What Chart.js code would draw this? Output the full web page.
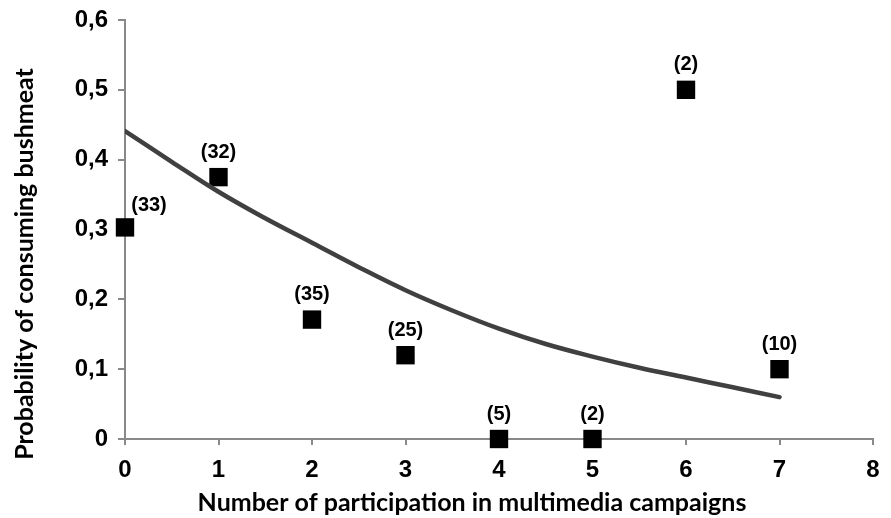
<!DOCTYPE html>
<html lang="en">
<head>
  <meta charset="UTF-8">
  <title>Probability of consuming bushmeat</title>
  <script src="https://cdn.jsdelivr.net/npm/chart.js"></script>
  <style>
    body { margin: 0; background: #fff; }
    #wrap { width: 891px; height: 518px; }
  </style>
</head>
<body>
  <div id="wrap"><canvas id="chart" width="891" height="518"></canvas></div>
  <script>
    // observed proportions per number of campaigns, with sample sizes
    const obsX = [0, 1, 2, 3, 4, 5, 6, 7];
    const obsY = [0.303, 0.375, 0.171, 0.12, 0, 0, 0.5, 0.1];
    const sampleSizes = ['(33)', '(32)', '(35)', '(25)', '(5)', '(2)', '(2)', '(10)'];

    // fitted curve
    const fitX = [0, 0.5, 1, 1.5, 2, 2.5, 3, 3.5, 4, 4.5, 5, 5.5, 6, 6.5, 7];
    const fitY = [0.441, 0.397, 0.354, 0.316, 0.281, 0.246, 0.213, 0.184, 0.158, 0.136, 0.118, 0.102, 0.088, 0.074, 0.06];

    const xTitle = 'Number of participation in multimedia campaigns';
    const yTitle = 'Probability of consuming bushmeat';

    const fontTicks = { family: 'Liberation Sans, Arial, sans-serif', size: 24, weight: 'bold' };

    // draws the (n) labels above the squares and the two axis titles
    const labelPlugin = {
      id: 'sampleLabels',
      afterDatasetsDraw(chart) {
        const ctx = chart.ctx;
        const meta = chart.getDatasetMeta(1);
        ctx.save();
        ctx.font = 'bold 20px Liberation Sans, Arial, sans-serif';
        ctx.fillStyle = '#000';
        ctx.textAlign = 'center';
        ctx.textBaseline = 'middle';
        meta.data.forEach((pt, i) => {
          let dx = 0, dy = -25;
          if (i === 0) { dx = 24; dy = -22; }
          ctx.fillText(sampleSizes[i], pt.x + dx, pt.y + dy);
        });

        // axis titles (they sit off-centre in the original)
        ctx.font = 'bold 25px Lato, sans-serif';
        ctx.fillText(xTitle, 472, 503);
        ctx.translate(25, 264);
        ctx.rotate(-Math.PI / 2);
        ctx.fillText(yTitle, 0, 0);
        ctx.restore();
      }
    };

    new Chart(document.getElementById('chart'), {
      type: 'scatter',
      data: {
        datasets: [{
          type: 'line',
          data: fitX.map((x, i) => ({ x: x, y: fitY[i] })),
          borderColor: '#404040',
          borderWidth: 4.5,
          pointRadius: 0,
          tension: 0.4,
          borderCapStyle: 'round',
          fill: false
        }, {
          data: obsX.map((x, i) => ({ x: x, y: obsY[i] })),
          pointStyle: 'rect',
          pointRadius: 13,
          backgroundColor: '#000',
          borderColor: '#000',
          borderWidth: 0,
          clip: false
        }]
      },
      options: {
        responsive: false,
        animation: false,
        layout: { padding: { top: 20, right: 18, left: 0, bottom: 0 } },
        plugins: {
          legend: { display: false },
          tooltip: { enabled: false }
        },
        scales: {
          x: {
            min: 0, max: 8,
            ticks: { stepSize: 1, color: '#000', font: fontTicks, padding: 11 },
            grid: { drawOnChartArea: false, color: '#898989', lineWidth: 2, tickLength: 6 },
            border: { color: '#898989', width: 2 },
            afterFit(scale) { scale.height = 79; }
          },
          y: {
            min: 0, max: 0.6,
            ticks: {
              stepSize: 0.1, color: '#000', font: fontTicks, padding: 10,
              callback: v => v === 0 ? '0' : v.toFixed(1).replace('.', ',')
            },
            grid: { drawOnChartArea: false, color: '#898989', lineWidth: 2, tickLength: 7 },
            border: { color: '#898989', width: 2 },
            afterFit(scale) {
              scale.width = 125;
              scale.paddingTop = 0;
              scale.paddingBottom = 0;
            }
          }
        }
      },
      plugins: [labelPlugin]
    });
  </script>
</body>
</html>
